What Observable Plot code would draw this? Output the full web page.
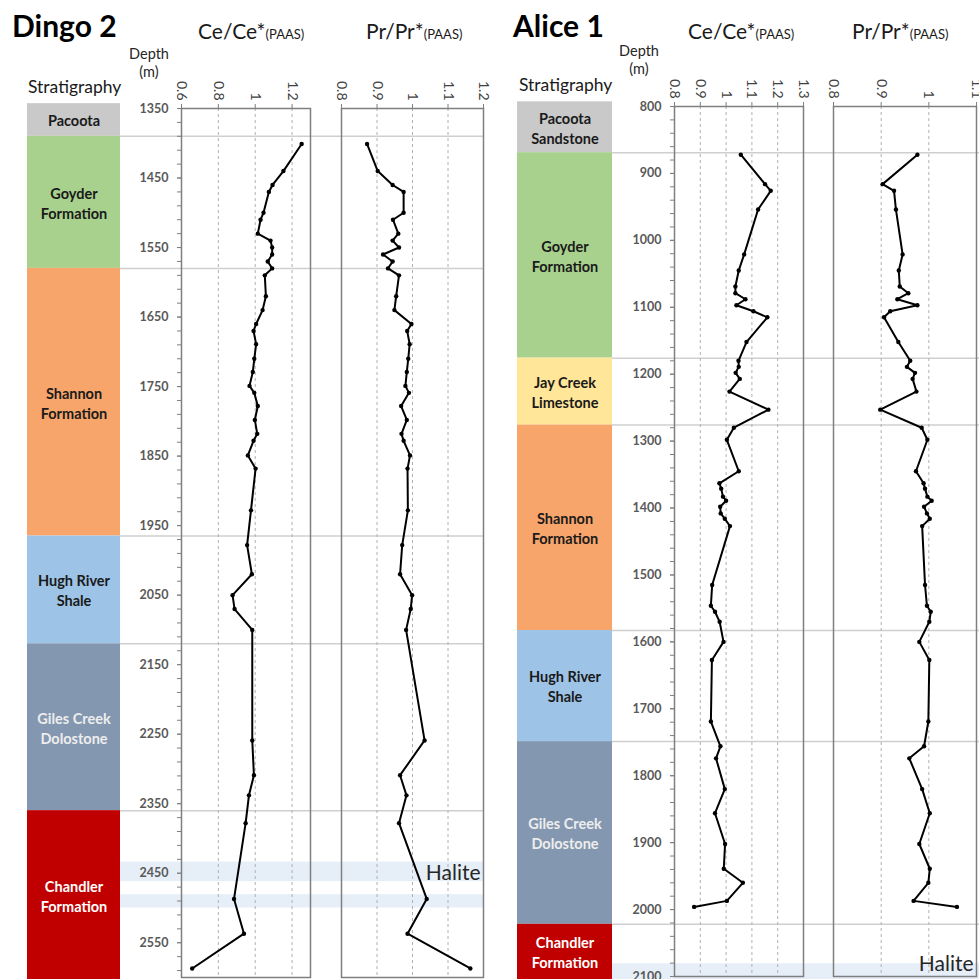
<!DOCTYPE html>
<html><head><meta charset="utf-8">
<script src="https://cdn.jsdelivr.net/npm/d3@7"></script>
<script src="https://cdn.jsdelivr.net/npm/@observablehq/plot@0.6"></script>
<style>
body{margin:0;background:#fff;}
#root{position:relative;width:979px;height:979px;overflow:hidden;font-family:Lato,"Open Sans",sans-serif;background:#fff;}
.abs{position:absolute;}
.abs svg{overflow:visible;display:block;}
.t{position:absolute;white-space:nowrap;line-height:1;color:#000;}
</style></head>
<body><div id="root"></div>
<script>
// ---------------- DATA: Dingo 2 ----------------
const dingoDepth = [1401,1440,1460,1470,1500,1510,1530,1540,1550,1560,1570,1580,1590,1620,1640,1660,1670,1689,1710,1729,1749,1759,1778,1798,1818,1828,1849,1868,1928,1978,2020,2050,2070,2100,2259,2309,2338,2378,2487,2537,2587];
const dingoCe = [1.252,1.153,1.094,1.074,1.045,1.029,1.014,1.083,1.092,1.092,1.068,1.092,1.052,1.058,1.04,1.005,0.991,1.005,0.995,0.987,0.969,0.995,1.014,0.998,1.011,0.991,0.96,1.002,0.977,0.956,0.982,0.877,0.888,0.984,0.984,0.993,0.966,0.948,0.885,0.939,0.658];
const dingoPr = [0.872,0.902,0.944,0.975,0.975,0.945,0.96,0.944,0.962,0.917,0.944,0.931,0.962,0.954,0.949,0.997,0.985,0.992,0.988,0.984,0.98,0.99,0.968,0.984,0.969,0.975,0.993,0.986,0.987,0.971,0.965,0.999,0.995,0.982,1.034,0.965,0.983,0.962,1.04,0.986,1.163];
const dingoFormations = ["Pacoota","Goyder\nFormation","Shannon\nFormation","Hugh River\nShale","Giles Creek\nDolostone","Chandler\nFormation"];
const dingoFormationTop = [1343,1390,1580,1965,2120,2360];
const dingoFormationBase = [1390,1580,1965,2120,2360,2605];
const dingoHaliteTop = [2434,2481];
const dingoHaliteBase = [2462,2500];
const dingoCeTicks = [0.6,0.8,1,1.2];
const dingoPrTicks = [0.8,0.9,1,1.1,1.2];
const dingoDepthLabels = [1350,1450,1550,1650,1750,1850,1950,2050,2150,2250,2350,2450,2550];

// ---------------- DATA: Alice 1 ----------------
const aliceDepth = [872,916,926,954,1021,1045,1069,1079,1088,1097,1106,1115,1152,1180,1189,1198,1207,1226,1253,1280,1298,1345,1363,1371,1383,1389,1398,1408,1416,1427,1515,1546,1555,1570,1600,1627,1719,1756,1774,1820,1856,1902,1939,1960,1987,1996];
const aliceCe = [1.057,1.151,1.173,1.124,1.07,1.049,1.036,1.036,1.075,1.04,1.106,1.16,1.079,1.048,1.049,1.037,1.053,1.013,1.164,1.03,1.003,1.049,0.974,0.981,0.988,1.0,0.977,0.979,0.995,1.015,0.946,0.941,0.957,0.975,0.99,0.945,0.941,0.978,0.961,0.995,0.957,0.996,0.991,1.065,1.003,0.876];
const alicePr = [0.976,0.903,0.927,0.931,0.945,0.937,0.939,0.957,0.934,0.976,0.919,0.906,0.936,0.961,0.954,0.971,0.966,0.974,0.898,0.985,0.997,0.973,0.989,0.992,0.997,1.006,0.99,0.996,1.002,0.986,0.992,0.996,1.004,1.001,0.98,1.001,0.999,0.99,0.959,0.986,1.002,0.98,1.002,0.999,0.968,1.059];
const aliceFormations = ["Pacoota\nSandstone","Goyder\nFormation","Jay Creek\nLimestone","Shannon\nFormation","Hugh River\nShale","Giles Creek\nDolostone","Chandler\nFormation"];
const aliceFormationTop = [793,869,1176,1276,1583,1749,2022];
const aliceFormationBase = [869,1176,1276,1583,1749,2022,2105];
const aliceHaliteTop = [2081];
const aliceHaliteBase = [2105];
const aliceCeTicks = [0.8,0.9,1,1.1,1.2,1.3];
const alicePrTicks = [0.8,0.9,1,1.1];
const aliceDepthLabels = [800,900,1000,1100,1200,1300,1400,1500,1600,1700,1800,1900,2000,2100];

// ---------------- STYLE ----------------
const formationFill = {
  "Pacoota":"#c9c9c9","Goyder":"#a9d18e","Jay":"#ffe699","Shannon":"#f8a56b",
  "Hugh":"#9dc3e6","Giles":"#8497b0","Chandler":"#c00000"
};
const formationInk = {"Giles":"#ededed","Chandler":"#ffffff"};
const MT = 48, MB = 4;
const plotStyle = {background:"transparent", overflow:"visible", fontFamily:"Lato, 'Open Sans', sans-serif"};

const root = document.getElementById("root");
function place(el, left, top){
  const d = document.createElement("div");
  d.className = "abs"; d.style.left = left+"px"; d.style.top = top+"px";
  d.appendChild(el); root.appendChild(d);
}
function addText(html, left, top, css){
  const d = document.createElement("div");
  d.className = "t"; d.innerHTML = html;
  d.style.left = left+"px"; d.style.top = top+"px";
  Object.assign(d.style, css||{});
  root.appendChild(d);
}

const wells = [
  {name:"Dingo 2", depth:dingoDepth, ce:dingoCe, pr:dingoPr, names:dingoFormations, tops:dingoFormationTop, bases:dingoFormationBase,
   hTop:dingoHaliteTop, hBase:dingoHaliteBase, ceTicks:dingoCeTicks, prTicks:dingoPrTicks, labels:dingoDepthLabels,
   domain:[1350,2600], ceDomain:[0.6,1.3], prDomain:[0.8,1.2], haliteDy:1,
   top:60, frameH:869, stratX:27, stratW:93, bgW:363, axisX:181, ceW:129, prX:341, prW:142},
  {name:"Alice 1", depth:aliceDepth, ce:aliceCe, pr:alicePr, names:aliceFormations, tops:aliceFormationTop, bases:aliceFormationBase,
   hTop:aliceHaliteTop, hBase:aliceHaliteBase, ceTicks:aliceCeTicks, prTicks:alicePrTicks, labels:aliceDepthLabels,
   domain:[800,2100], ceDomain:[0.8,1.3], prDomain:[0.8,1.1], haliteDy:-6,
   top:58, frameH:870, stratX:517, stratW:95, bgW:367, axisX:674, ceW:129, prX:833, prW:143}
];

for (const w of wells) {
  const H = MT + w.frameH + MB;
  const yDef = {domain:w.domain, reverse:true};
  const rows = w.depth.map((d,i)=>({depth:d, ce:w.ce[i], pr:w.pr[i]}));
  const strat = w.names.map((n,i)=>{
    const key = n.split(/[ \n]/)[0];
    return {name:n, top:w.tops[i], base:w.bases[i], fill:formationFill[key], ink:formationInk[key]||"#1a1a1a"};
  });
  const halite = w.hTop.map((t,i)=>({top:t, base:w.hBase[i]}));
  const boundaries = w.tops.slice(1);
  const minor = d3.range(w.domain[0], w.domain[1]+1, 20);

  // background: formation boundaries & halite bands
  place(Plot.plot({
    width:w.bgW, height:H, marginLeft:0, marginRight:0, marginTop:MT, marginBottom:MB,
    y:{...yDef, axis:null}, style:plotStyle,
    marks:[
      Plot.barY(halite, {y1:"top", y2:"base", fill:"#e6eef8"}),
      Plot.ruleY(boundaries, {stroke:"#cfcfcf", strokeWidth:1.5})
    ]
  }), w.stratX + w.stratW, w.top);

  // stratigraphy column
  place(Plot.plot({
    width:w.stratW, height:H, marginLeft:0, marginRight:0, marginTop:MT, marginBottom:MB,
    y:{...yDef, axis:null}, color:{type:"identity"}, style:plotStyle,
    marks:[
      Plot.barY(strat, {y1:"top", y2:"base", fill:"fill"}),
      Plot.text(strat, {y:d=>(d.top+d.base)/2, text:"name", fill:"ink", fontWeight:"bold", fontSize:14.5, lineHeight:1.38})
    ]
  }), w.stratX, w.top);

  // Ce/Ce* panel with depth axis
  const ML = 60;
  place(Plot.plot({
    width:ML + w.ceW + 1, height:H, marginLeft:ML, marginRight:1, marginTop:MT, marginBottom:MB,
    x:{domain:w.ceDomain}, y:yDef, style:plotStyle,
    marks:[
      Plot.gridX(w.ceTicks.filter(t=>t>w.ceDomain[0] && t<w.ceDomain[1]), {stroke:"#b0b0b0", strokeOpacity:1, strokeDasharray:"3,3"}),
      Plot.frame({stroke:"#7f7f7f", strokeWidth:1.5}),
      Plot.axisX(w.ceTicks, {anchor:"top", tickRotate:90, tickSize:5, tickPadding:3, label:null, tickFormat:d=>String(d), fontSize:14, fill:"#404040", stroke:"#7f7f7f"}),
      Plot.axisY(minor, {anchor:"left", tickSize:4, tickFormat:()=>"", label:null, stroke:"#7f7f7f"}),
      Plot.axisY(w.labels, {anchor:"left", tickSize:4, tickPadding:9, label:null, tickFormat:d=>String(d), fontSize:12.5, fontWeight:"bold", fill:"#595959", stroke:"#7f7f7f"}),
      Plot.line(rows, {x:"ce", y:"depth", stroke:"#000", strokeWidth:2}),
      Plot.dot(rows, {x:"ce", y:"depth", r:2.2, fill:"#000"})
    ]
  }), w.axisX - ML, w.top);

  // Pr/Pr* panel
  place(Plot.plot({
    width:w.prW + 2, height:H, marginLeft:1, marginRight:1, marginTop:MT, marginBottom:MB,
    x:{domain:w.prDomain}, y:{...yDef, axis:null}, style:plotStyle,
    marks:[
      Plot.gridX(w.prTicks.filter(t=>t>w.prDomain[0] && t<w.prDomain[1]), {stroke:"#b0b0b0", strokeOpacity:1, strokeDasharray:"3,3"}),
      Plot.frame({stroke:"#7f7f7f", strokeWidth:1.5}),
      Plot.axisX(w.prTicks, {anchor:"top", tickRotate:90, tickSize:5, tickPadding:3, label:null, tickFormat:d=>String(d), fontSize:14, fill:"#404040", stroke:"#7f7f7f"}),
      Plot.line(rows, {x:"pr", y:"depth", stroke:"#000", strokeWidth:2}),
      Plot.dot(rows, {x:"pr", y:"depth", r:2.2, fill:"#000"}),
      Plot.text(halite.slice(0,1), {y:d=>(d.top+Math.min(d.base,w.domain[1]))/2, text:()=>"Halite", frameAnchor:"right", textAnchor:"end", dx:-3, dy:w.haliteDy, fontSize:21, fill:"#262626"})
    ]
  }), w.prX - 1, w.top);
}

// ---------------- headings ----------------
const sub = '<span style="font-size:13px">(PAAS)</span>';
addText("Dingo 2", 12, 10, {fontSize:"30px", fontWeight:"bold"});
addText("Alice 1", 513, 10, {fontSize:"30px", fontWeight:"bold"});
addText("Ce/Ce*"+sub, 198, 20, {fontSize:"21px", color:"#1a1a1a"});
addText("Pr/Pr*"+sub, 366, 20, {fontSize:"21px", color:"#1a1a1a"});
addText("Ce/Ce*"+sub, 688, 20, {fontSize:"21px", color:"#1a1a1a"});
addText("Pr/Pr*"+sub, 852, 20, {fontSize:"21px", color:"#1a1a1a"});
addText("Depth<br>(m)", 128, 45, {fontSize:"14.5px", lineHeight:"18px", textAlign:"center", width:"42px", color:"#262626"});
addText("Depth<br>(m)", 618, 42, {fontSize:"14.5px", lineHeight:"18px", textAlign:"center", width:"42px", color:"#262626"});
addText("Stratigraphy", 28, 78, {fontSize:"17.5px", color:"#1a1a1a"});
addText("Stratigraphy", 519, 76, {fontSize:"17.5px", color:"#1a1a1a"});
</script></body></html>
